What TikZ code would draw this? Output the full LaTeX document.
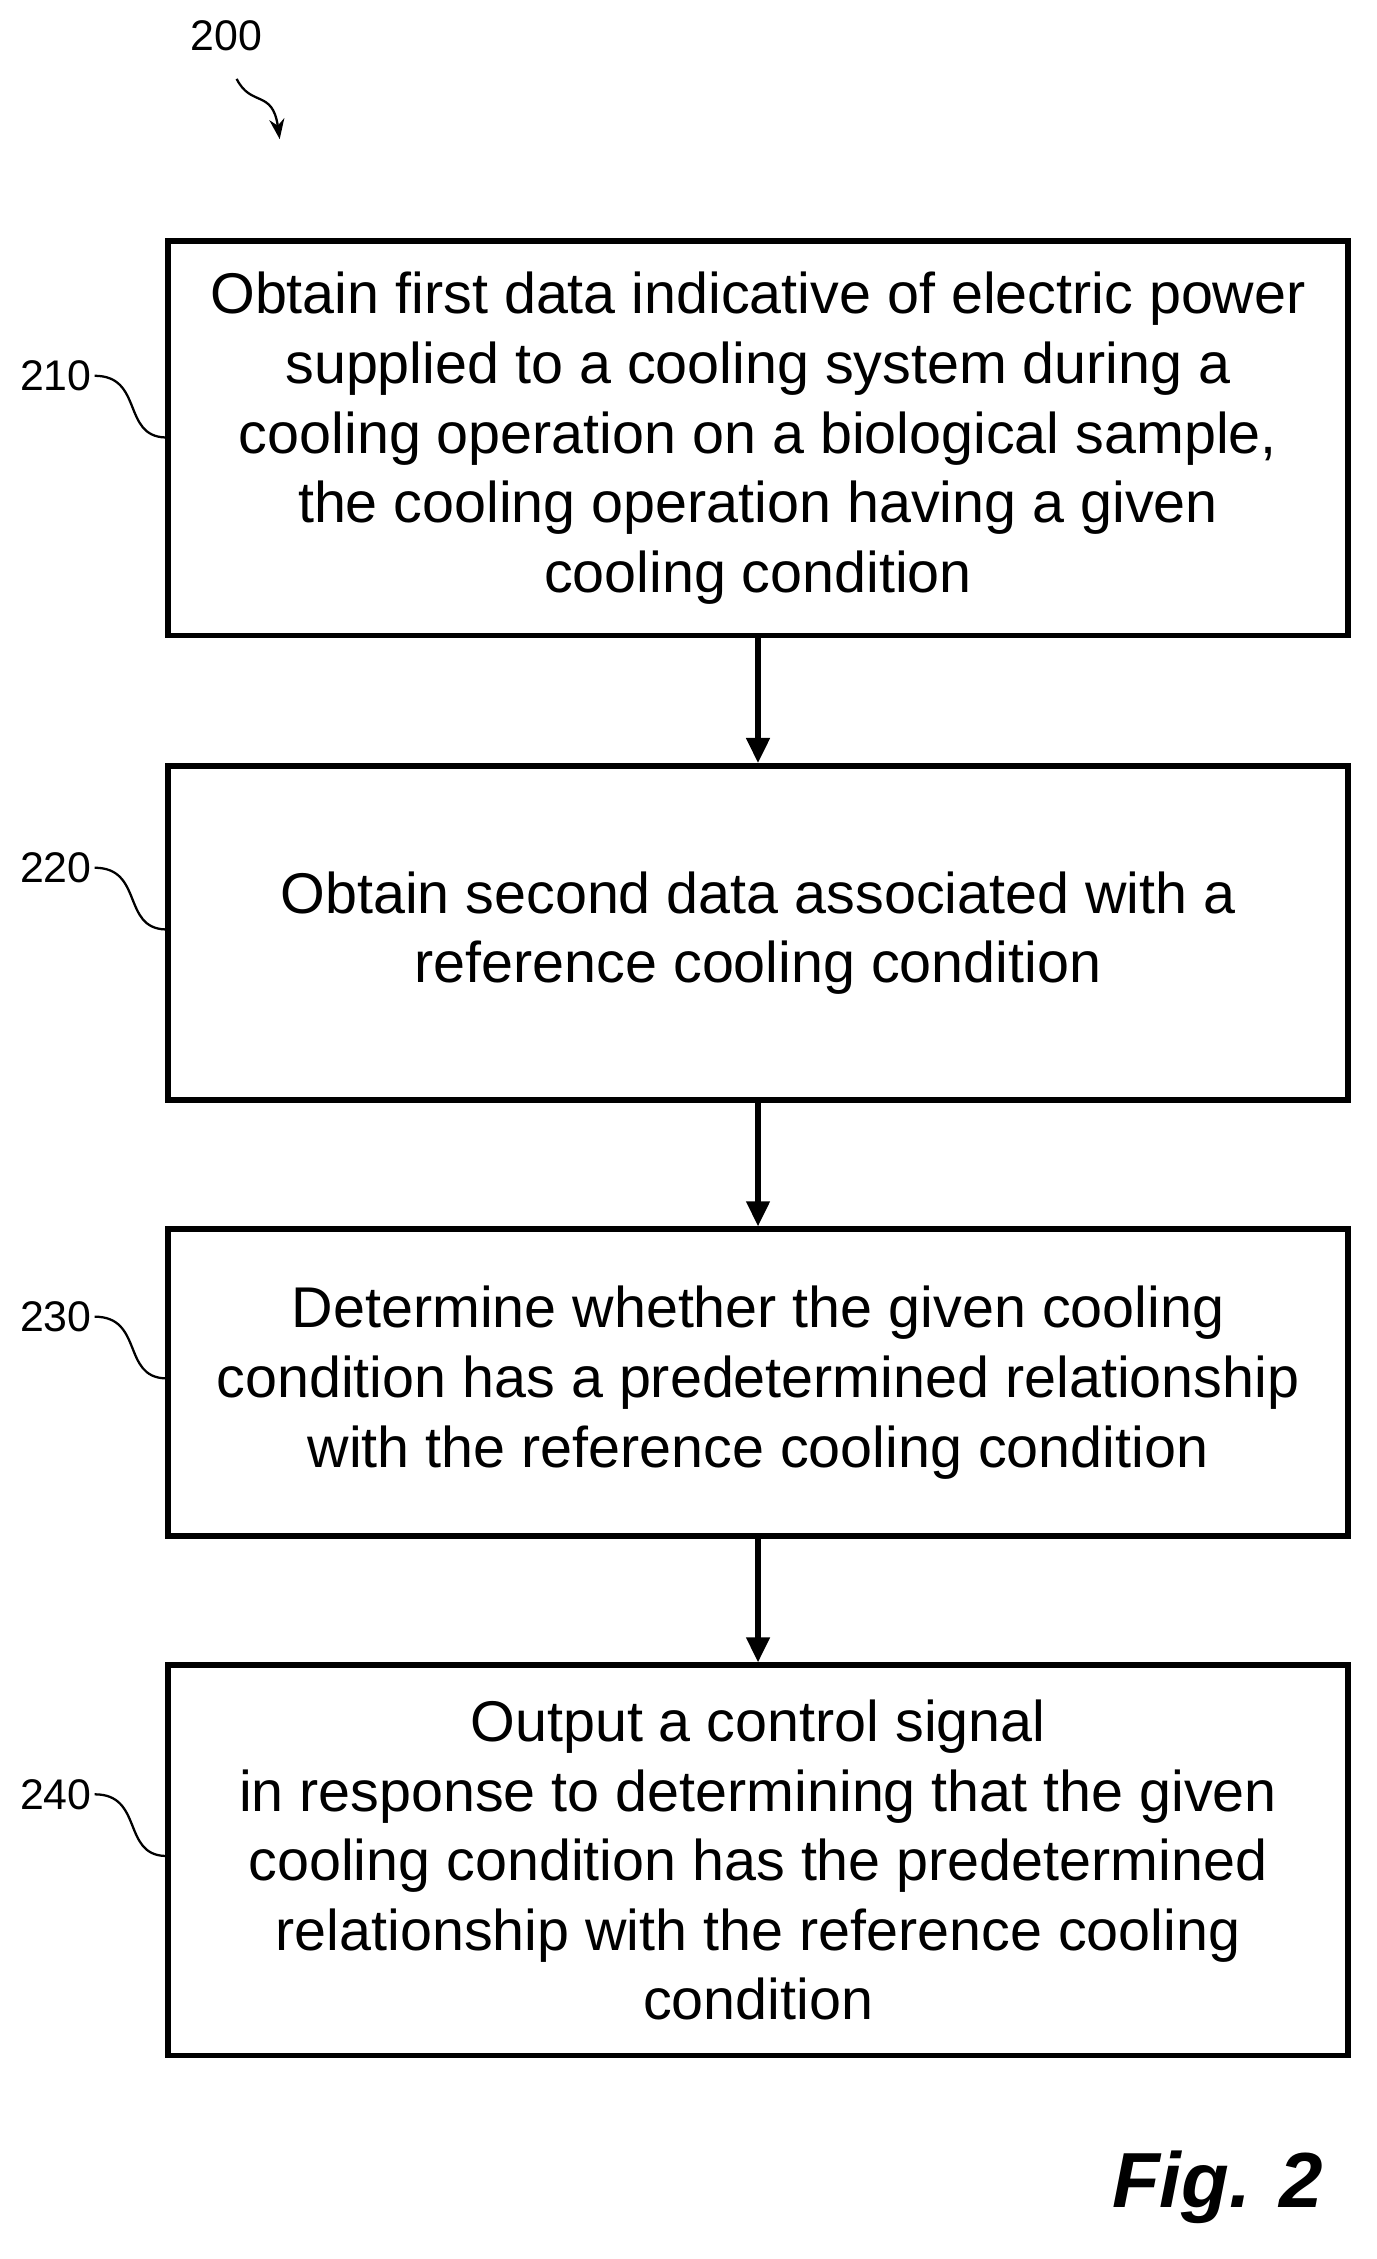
\documentclass[tikz,border=0pt]{standalone}
\usepackage{fontspec}
\setmainfont{Liberation Sans}
\usetikzlibrary{arrows.meta}
\tikzset{
  stepbox/.style={draw, line width=2.2pt, minimum width=16.46cm, align=center,
    font=\fontsize{22.8}{27.6}\selectfont},
  reflabel/.style={font=\fontsize{17}{20}\selectfont, inner sep=1pt},
  squig/.style={line width=0.9pt}
}
\begin{document}
\begin{tikzpicture}[x={(0.02cm,0)}, y={(0,-0.02cm)}]
        \useasboundingbox (0,0) rectangle (960,1575);
        \node[stepbox, minimum height=5.5cm] (s210) at (528.5,305.5) {Obtain first data indicative of electric power\\supplied to a cooling system during a\\cooling operation on a biological sample,\\the cooling operation having a given\\cooling condition};
        \node[stepbox, minimum height=4.66cm] (s220) at (528.5,650.5) {Obtain second data associated with a\\reference cooling condition};
        \node[stepbox, minimum height=4.28cm] (s230) at (528.5,964) {Determine whether the given cooling\\condition has a predetermined relationship\\with the reference cooling condition};
        \node[stepbox, minimum height=5.44cm] (s240) at (528.5,1297) {Output a control signal\\in response to determining that the given\\cooling condition has the predetermined\\relationship with the reference cooling\\condition};

        \draw[-{Triangle[length=10pt,width=9pt]}, line width=2.2pt] (s210) -- (s220);
        \draw[-{Triangle[length=10pt,width=9pt]}, line width=2.2pt] (s220) -- (s230);
        \draw[-{Triangle[length=10pt,width=9pt]}, line width=2.2pt] (s230) -- (s240);

        % reference numerals
        \node[reflabel] (l200) at (158,25) {200};
        \coordinate (a200) at (195,97);
        \draw[squig, -{Stealth[length=8pt]}] (165,55) .. controls (175,75) and (190,62) .. (a200);
        \foreach \n/\y in {210/262, 220/605, 230/918, 240/1251} {
          \node[reflabel, anchor=east] (l\n) at (66,\y) {\n};
          \draw[squig] (l\n.east) .. controls (100,\y) and (85,\y+42) .. (s\n.west |- 0,\y+43);
        }

        \node[font=\bfseries\itshape\fontsize{31}{34}\selectfont] (fig) at (849,1525) {Fig. 2};
      \end{tikzpicture}
\end{document}
